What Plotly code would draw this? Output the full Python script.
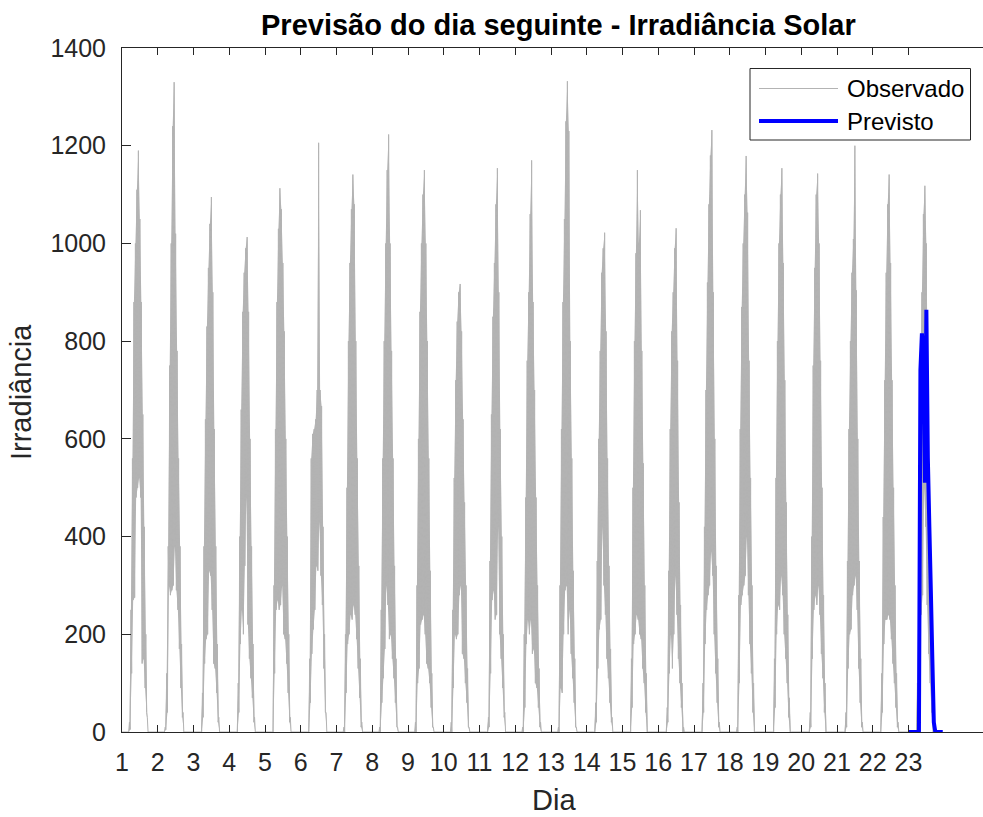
import plotly.graph_objects as go

# ---------------- data ----------------
dias = list(range(1, 24))

# hours of the day at which the upper / lower readings of each day are taken
horas_max = [5, 6, 7, 8, 9, 10, 11, 12, 13, 14, 15, 16, 17]
horas_min = [5.5, 6.5, 7.5, 8.5, 9.5, 10.5, 11.5, 12.5, 13.5, 14.5, 15.5, 16.5, 17.5]
hora_nascer = 4.5

# observed irradiance: high readings (one row per day)
irr_max = [
    [20, 250, 560, 880, 1000, 1110, 1190, 1050, 880, 650, 420, 200, 30],
    [10, 120, 380, 750, 1000, 1240, 1330, 1020, 780, 560, 380, 180, 40],
    [0, 80, 380, 640, 830, 950, 1040, 1095, 900, 620, 380, 180, 30],
    [0, 100, 400, 660, 860, 940, 990, 1013, 860, 600, 380, 180, 30],
    [0, 300, 620, 880, 1030, 1113, 1070, 960, 820, 600, 400, 200, 30],
    [0, 150, 560, 610, 620, 640, 700, 1206, 700, 667, 420, 200, 40],
    [10, 200, 500, 800, 960, 1070, 1141, 1080, 800, 560, 340, 150, 20],
    [10, 250, 560, 800, 1000, 1150, 1223, 1000, 780, 560, 340, 150, 10],
    [20, 300, 600, 860, 1000, 1100, 1150, 1000, 800, 560, 330, 120, 10],
    [20, 250, 520, 720, 840, 900, 917, 820, 640, 470, 300, 130, 10],
    [0, 30, 350, 650, 850, 960, 1080, 1154, 900, 620, 400, 200, 40],
    [10, 200, 480, 760, 900, 1060, 1170, 880, 700, 480, 300, 130, 20],
    [10, 300, 620, 880, 1050, 1250, 1332, 1230, 800, 560, 330, 150, 10],
    [0, 60, 350, 600, 780, 940, 990, 1022, 820, 560, 340, 170, 30],
    [0, 150, 500, 800, 980, 1150, 1000, 1068, 780, 550, 300, 120, 0],
    [0, 50, 330, 620, 820, 900, 990, 1031, 760, 470, 260, 100, 10],
    [0, 100, 420, 700, 920, 1080, 1180, 1232, 900, 600, 340, 150, 20],
    [10, 280, 620, 870, 1000, 1100, 1179, 1063, 760, 520, 300, 100, 0],
    [0, 150, 520, 800, 1000, 1100, 1154, 960, 720, 470, 240, 70, 0],
    [0, 40, 400, 750, 950, 1100, 1143, 1000, 760, 500, 280, 100, 0],
    [0, 40, 350, 620, 800, 940, 1009, 1200, 904, 600, 350, 150, 20],
    [0, 120, 440, 720, 940, 1080, 1141, 960, 720, 500, 300, 120, 20],
    [0, 100, 400, 700, 900, 1060, 1118, 1000, 720, 480, 280, 100, 10],
]

# observed irradiance: low readings (one row per day)
irr_min = [
    [5, 120, 270, 275, 480, 500, 520, 480, 140, 150, 90, 40, 0],
    [5, 40, 300, 280, 290, 300, 380, 290, 250, 170, 90, 30, 0],
    [0, 30, 140, 190, 200, 330, 320, 250, 140, 130, 80, 20, 0],
    [0, 40, 180, 250, 200, 340, 480, 220, 150, 110, 70, 20, 0],
    [0, 120, 250, 270, 250, 260, 300, 200, 190, 140, 80, 20, 0],
    [0, 60, 160, 210, 250, 340, 330, 430, 320, 260, 130, 40, 0],
    [0, 80, 180, 200, 240, 230, 260, 240, 190, 130, 70, 10, 0],
    [0, 60, 110, 170, 300, 260, 190, 200, 150, 110, 60, 10, 0],
    [0, 100, 130, 220, 230, 240, 200, 140, 130, 100, 50, 10, 0],
    [0, 90, 200, 190, 200, 280, 300, 160, 150, 100, 60, 10, 0],
    [0, 10, 120, 270, 290, 230, 240, 420, 200, 150, 90, 30, 0],
    [0, 50, 180, 230, 200, 230, 160, 170, 100, 90, 50, 10, 0],
    [0, 90, 80, 200, 290, 300, 200, 250, 160, 110, 60, 10, 0],
    [0, 20, 130, 210, 230, 420, 300, 240, 150, 110, 60, 20, 0],
    [0, 50, 180, 200, 240, 230, 200, 190, 130, 100, 40, 0, 0],
    [0, 20, 120, 200, 130, 200, 320, 240, 150, 100, 50, 0, 0],
    [0, 40, 180, 250, 280, 300, 370, 320, 200, 120, 60, 10, 0],
    [0, 100, 260, 280, 300, 320, 400, 280, 180, 120, 40, 0, 0],
    [0, 50, 200, 260, 250, 320, 280, 200, 150, 100, 30, 0, 0],
    [0, 10, 150, 250, 280, 260, 300, 240, 160, 110, 40, 0, 0],
    [0, 10, 130, 200, 210, 280, 300, 320, 250, 130, 60, 10, 0],
    [0, 40, 180, 230, 230, 240, 230, 190, 140, 100, 50, 10, 0],
    [0, 30, 150, 240, 280, 500, 420, 260, 160, 100, 40, 0, 0],
]

# next-day forecast (hourly)
dia_previsao = 23
horas_previsao = list(range(24))
irr_previsao = [0, 0, 0, 0, 0, 0, 0, 0, 741, 816, 780, 510,
                864, 560, 420, 290, 150, 20, 0, 0, 0, 0, 0, 0]

ticks_x = list(range(1, 24))
ticks_y = [0, 200, 400, 600, 800, 1000, 1200, 1400]

# ---------------- series ----------------
# measured signal: alternates between the high and low readings
x_obs, y_obs = [1.0], [0]
# dense band between the two readings, one closed outline per day
x_band, y_band = [], []
for d, sup, inf in zip(dias, irr_max, irr_min):
    x_obs.append(d + hora_nascer / 24)
    y_obs.append(0)
    for hs, vs, hi, vi in zip(horas_max, sup, horas_min, inf):
        x_obs += [d + hs / 24, d + hi / 24]
        y_obs += [vs, vi]
    x_band += [d + hora_nascer / 24] + [d + h / 24 for h in horas_max]
    y_band += [0] + list(sup)
    x_band += [d + h / 24 for h in reversed(horas_min)] + [None]
    y_band += list(reversed(inf)) + [None]

x_prev = [dia_previsao + h / 24 for h in horas_previsao]

# ---------------- figure ----------------
W, H = 983, 817
ML, MR, MT, MB = 122, 0, 48, 85
PW, PH = W - ML - MR, H - MT - MB
DAY_PX = 35.75
FONT = "Liberation Sans, Arial, sans-serif"
AX = "#262626"
GRAY = "rgb(179,179,179)"
BLUE = "rgb(0,0,255)"


def px_x(p):
    return (p - ML) / PW


def px_y(p):
    return (H - MB - p) / PH


fig = go.Figure()
fig.add_trace(go.Scatter(
    x=x_band, y=y_band, mode="lines", fill="toself", fillcolor=GRAY,
    line=dict(width=0, color=GRAY, simplify=False), connectgaps=False,
    showlegend=False, hoverinfo="skip"))
fig.add_trace(go.Scatter(
    x=x_obs, y=y_obs, mode="lines", name="Observado",
    line=dict(color=GRAY, width=1, simplify=False), showlegend=False,
    hoverinfo="skip"))
fig.add_trace(go.Scatter(
    x=x_prev, y=irr_previsao, mode="lines", name="Previsto",
    line=dict(color=BLUE, width=4, simplify=False), showlegend=False))

# legend box drawn by hand
shapes = [
    dict(type="rect", xref="paper", yref="paper",
         x0=px_x(750), x1=px_x(970.5), y0=px_y(140), y1=px_y(68.5),
         fillcolor="white", line=dict(color=AX, width=1), layer="above"),
    dict(type="line", xref="paper", yref="paper",
         x0=px_x(759), x1=px_x(838), y0=px_y(88.5), y1=px_y(88.5),
         line=dict(color=GRAY, width=1), layer="above"),
    dict(type="line", xref="paper", yref="paper",
         x0=px_x(759), x1=px_x(838), y0=px_y(121), y1=px_y(121),
         line=dict(color=BLUE, width=4), layer="above"),
]

annotations = [
    dict(text="Observado", xref="paper", yref="paper", x=px_x(845), y=px_y(88.5),
         xanchor="left", yanchor="middle", showarrow=False,
         font=dict(family=FONT, size=24, color="black")),
    dict(text="Previsto", xref="paper", yref="paper", x=px_x(845), y=px_y(121),
         xanchor="left", yanchor="middle", showarrow=False,
         font=dict(family=FONT, size=24, color="black")),
    dict(text="<b>Previsão do dia seguinte - Irradiância Solar</b>",
         xref="paper", yref="paper", x=px_x(558), y=px_y(25),
         xanchor="center", yanchor="middle", showarrow=False,
         font=dict(family=FONT, size=29, color="black")),
    dict(text="Dia", xref="paper", yref="paper", x=px_x(554), y=px_y(800),
         xanchor="center", yanchor="middle", showarrow=False,
         font=dict(family=FONT, size=29, color=AX)),
    dict(text="Irradiância", xref="paper", yref="paper", x=px_x(21), y=px_y(392),
         xanchor="center", yanchor="middle", showarrow=False, textangle=-90,
         font=dict(family=FONT, size=29, color=AX)),
]

fig.update_layout(
    width=W, height=H,
    margin=dict(l=ML, r=MR, t=MT, b=MB, pad=0),
    paper_bgcolor="white", plot_bgcolor="white",
    showlegend=False,
    shapes=shapes, annotations=annotations,
    xaxis=dict(
        range=[1, 1 + PW / DAY_PX], tickvals=ticks_x,
        ticktext=[str(t) for t in ticks_x],
        ticks="inside", ticklen=7, tickwidth=1, tickcolor=AX,
        showline=True, linecolor=AX, linewidth=1, mirror="ticks",
        showgrid=False, zeroline=False,
        tickfont=dict(family=FONT, size=25, color=AX),
        ticklabelstandoff=8,
    ),
    yaxis=dict(
        range=[0, 1400], tickvals=ticks_y,
        ticks="inside", ticklen=9, tickwidth=1, tickcolor=AX,
        showline=True, linecolor=AX, linewidth=1,
        showgrid=False, zeroline=False,
        tickfont=dict(family=FONT, size=25, color=AX),
        ticklabelstandoff=10,
    ),
)

fig.write_html("out.html")
